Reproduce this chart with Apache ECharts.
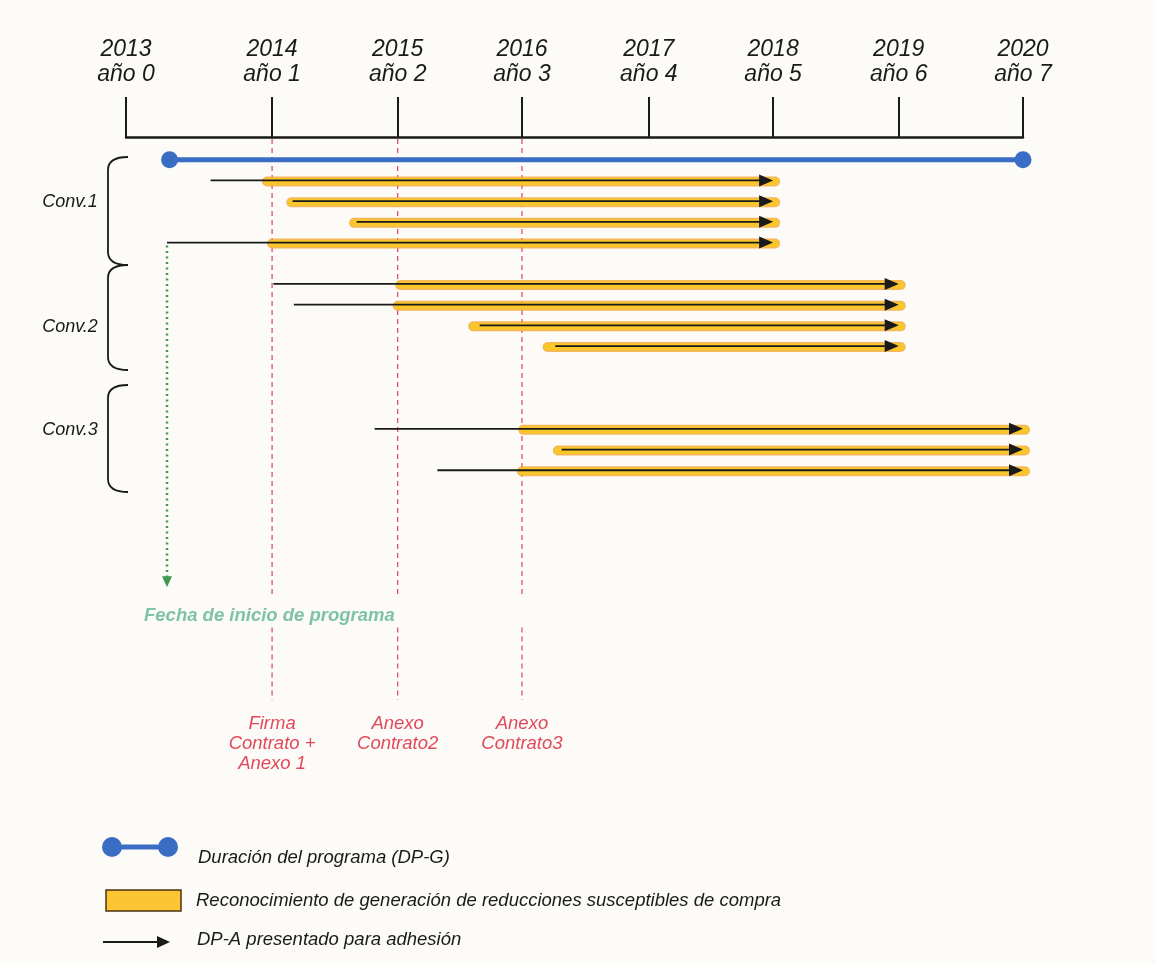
<!DOCTYPE html>
<html><head><meta charset="utf-8">
<script src="https://cdn.jsdelivr.net/npm/echarts@6/dist/echarts.min.js"></script>
<style>html,body{margin:0;padding:0;background:#fcfbf7}#c{width:1156px;height:964px}</style>
</head><body><div id="c"></div><script>
// ---- data (x in years as drawn on the reference's hand-made time scale) ----
const tickPos   = [2013, 2014.14, 2015.12, 2016.09, 2017.08, 2018.05, 2019.03, 2020];
const tickYears = ['2013','2014','2015','2016','2017','2018','2019','2020'];
const tickAnos  = ['año 0','año 1','año 2','año 3','año 4','año 5','año 6','año 7'];

const rowLane  = [1, 2, 3, 4, 6, 7, 8, 9, 13, 14, 15];
const dpaStart = [2013.66, 2014.30, 2014.80, 2013.32, 2014.15, 2014.31, 2015.76, 2016.35, 2014.94, 2016.40, 2015.43];
const recStart = [2014.10, 2014.29, 2014.78, 2014.14, 2015.14, 2015.12, 2015.71, 2016.29, 2016.10, 2016.37, 2016.09];
const rowEnd   = [2018.05, 2018.05, 2018.05, 2018.05, 2019.03, 2019.03, 2019.03, 2019.03, 2020, 2020, 2020];

const programStart = 2013.34, programEnd = 2020;
const programStartRow = 3; // index of the row whose start marks the programme start
const contractDates  = [2014.14, 2015.12, 2016.09];
const contractLabels = ['Firma\nContrato +\nAnexo 1', 'Anexo\nContrato2', 'Anexo\nContrato3'];
const convLabels = ['Conv.1', 'Conv.2', 'Conv.3'];
const legendTexts = ['Duración del programa (DP-G)',
  'Reconocimiento de generación de reducciones susceptibles de compra',
  'DP-A presentado para adhesión'];

// ---- layout ----
const FONT = '"Liberation Sans", Arial, sans-serif';
const laneH = 20.7, yMin = -1.1, yMax = 28;
const BLACK = '#1a1a1a';

const chart = echarts.init(document.getElementById('c'), null, {renderer: 'canvas'});

const rows = rowLane.map((l, i) => [dpaStart[i], recStart[i], rowEnd[i], l]);

function arrowHead(x, y, len, hw, color) {
  return {type: 'polygon', shape: {points: [[x, y], [x - len, y - hw], [x - len, y + hw]]}, style: {fill: color}};
}
const bst = {fill: null, stroke: BLACK, lineWidth: 1.8};
function bracket(top, bottom) {
  const xl = 108, xr = 128, r = 13;
  return [
    {type: 'bezierCurve', shape: {x1: xr, y1: top, x2: xl, y2: top + r, cpx1: xl, cpy1: top}, style: bst},
    {type: 'line', shape: {x1: xl, y1: top + r, x2: xl, y2: bottom - r}, style: bst},
    {type: 'bezierCurve', shape: {x1: xl, y1: bottom - r, x2: xr, y2: bottom, cpx1: xl, cpy1: bottom}, style: bst}
  ];
}

const option = {
  backgroundColor: '#fcfbf7',
  animation: false,
  grid: {left: 126, right: 133, top: 137, height: (yMax - yMin) * laneH},
  xAxis: {
    type: 'value', position: 'top', min: 2013, max: 2020,
    axisLine: {show: true, onZero: false, lineStyle: {color: BLACK, width: 2.5}},
    axisTick: {show: true, customValues: tickPos, length: 40, lineStyle: {color: BLACK, width: 2}},
    axisLabel: {
      show: true, customValues: tickPos, margin: 50,
      formatter: v => {
        let k = 0, d = 1e9;
        tickPos.forEach((t, j) => { if (Math.abs(t - v) < d) { d = Math.abs(t - v); k = j; } });
        return tickYears[k] + '\n' + tickAnos[k];
      },
      fontFamily: FONT, fontStyle: 'italic', fontSize: 23, lineHeight: 25, color: BLACK
    },
    splitLine: {show: false}
  },
  yAxis: {type: 'value', inverse: true, min: yMin, max: yMax, show: false},
  series: [
    // red dashed contract lines + labels
    {
      type: 'custom', silent: true, z: 1,
      data: contractDates.map((d, i) => [d, i]),
      encode: {x: 0},
      renderItem: (params, api) => {
        const x = api.coord([api.value(0), 0])[0];
        const yTop = api.coord([0, yMin])[1] + 2;
        const y1 = api.coord([0, 21.0])[1];
        const y2 = api.coord([0, 22.6])[1];
        const y3 = api.coord([0, 26.1])[1];
        const st = {stroke: '#e0506a', lineWidth: 1.3, lineDash: [5, 4]};
        return {type: 'group', children: [
          {type: 'line', shape: {x1: x, y1: yTop, x2: x, y2: y1}, style: st},
          {type: 'line', shape: {x1: x, y1: y2, x2: x, y2: y3}, style: st},
          {type: 'text', x: x, y: y3 + 14, style: {
            text: contractLabels[api.value(1)], fontFamily: FONT, fontStyle: 'italic', fontSize: 18.5,
            lineHeight: 20, fill: '#e04a5c', align: 'center', verticalAlign: 'top'}}
        ]};
      }
    },
    // green dotted start line
    {
      type: 'custom', silent: true, z: 2,
      data: [[dpaStart[programStartRow], rowLane[programStartRow]]],
      encode: {x: 0, y: 1},
      renderItem: (params, api) => {
        const p = api.coord([api.value(0), api.value(1)]);
        const yEnd = api.coord([0, 20.65])[1];
        return {type: 'group', children: [
          {type: 'line', shape: {x1: p[0], y1: p[1] + 3, x2: p[0], y2: yEnd - 10},
            style: {stroke: '#3f9a4f', lineWidth: 2.5, lineDash: [2, 3.5]}},
          {type: 'polygon', shape: {points: [[p[0], yEnd], [p[0] - 5, yEnd - 11], [p[0] + 5, yEnd - 11]]},
            style: {fill: '#3f9a4f'}},
          {type: 'text', x: p[0] - 23, y: yEnd + 29, style: {
            text: 'Fecha de inicio de programa', fontFamily: FONT, fontStyle: 'italic', fontWeight: 'bold',
            fontSize: 18.5, fill: '#7fc2aa', align: 'left', verticalAlign: 'middle'}}
        ]};
      }
    },
    // blue programme duration
    {
      type: 'custom', silent: true, z: 3,
      data: [[programStart, programEnd, 0]],
      encode: {x: [0, 1], y: 2},
      renderItem: (params, api) => {
        const a = api.coord([api.value(0), api.value(2)]);
        const b = api.coord([api.value(1), api.value(2)]);
        const c = '#3a6ec4';
        return {type: 'group', children: [
          {type: 'line', shape: {x1: a[0], y1: a[1], x2: b[0], y2: b[1]}, style: {stroke: c, lineWidth: 5}},
          {type: 'circle', shape: {cx: a[0], cy: a[1], r: 8.5}, style: {fill: c}},
          {type: 'circle', shape: {cx: b[0], cy: b[1], r: 8.5}, style: {fill: c}}
        ]};
      }
    },
    // rows: yellow recognition + black DP-A arrows
    {
      type: 'custom', silent: true, z: 4,
      data: rows,
      encode: {x: [0, 1, 2], y: 3},
      renderItem: (params, api) => {
        const a = api.coord([api.value(0), api.value(3)]);
        const r = api.coord([api.value(1), api.value(3)]);
        const e = api.coord([api.value(2), api.value(3)]);
        return {type: 'group', children: [
          {type: 'line', shape: {x1: r[0], y1: r[1] + 1, x2: e[0] + 2, y2: e[1] + 1},
            style: {stroke: '#f2a630', lineWidth: 10, lineCap: 'round', opacity: 0.8}},
          {type: 'line', shape: {x1: r[0], y1: r[1] + 1, x2: e[0] + 2, y2: e[1] + 1},
            style: {stroke: '#fac62a', lineWidth: 7, lineCap: 'round'}},
          {type: 'line', shape: {x1: a[0], y1: a[1], x2: e[0] - 10, y2: e[1]},
            style: {stroke: BLACK, lineWidth: 1.8}},
          arrowHead(e[0], e[1], 14, 6, BLACK)
        ]};
      }
    }
  ],
  graphic: {elements: [
    ...bracket(157, 265),
    ...bracket(265, 370),
    ...bracket(385, 492),
    ...convLabels.map((t, i) => ({type: 'text', x: 70, y: [202, 327, 430][i],
      style: {text: t, fontFamily: FONT, fontStyle: 'italic', fontSize: 18, fill: BLACK, align: 'center', verticalAlign: 'middle'}})),
    // legend
    {type: 'line', shape: {x1: 112, y1: 847, x2: 168, y2: 847}, style: {stroke: '#3a6ec4', lineWidth: 5}},
    {type: 'circle', shape: {cx: 112, cy: 847, r: 10}, style: {fill: '#3a6ec4'}},
    {type: 'circle', shape: {cx: 168, cy: 847, r: 10}, style: {fill: '#3a6ec4'}},
    {type: 'rect', shape: {x: 106, y: 890, width: 75, height: 21}, style: {fill: '#fbc533', stroke: '#4a3210', lineWidth: 1.5}},
    {type: 'line', shape: {x1: 103, y1: 942, x2: 160, y2: 942}, style: {stroke: BLACK, lineWidth: 1.8}},
    {type: 'polygon', shape: {points: [[170, 942], [157, 936], [157, 948]]}, style: {fill: BLACK}},
    ...legendTexts.map((t, i) => ({type: 'text', x: [198, 196, 197][i], y: [858, 901, 940][i],
      style: {text: t, fontFamily: FONT, fontStyle: 'italic', fontSize: 18.5, fill: BLACK, align: 'left', verticalAlign: 'middle'}}))
  ]}
};
chart.setOption(option);
</script></body></html>
